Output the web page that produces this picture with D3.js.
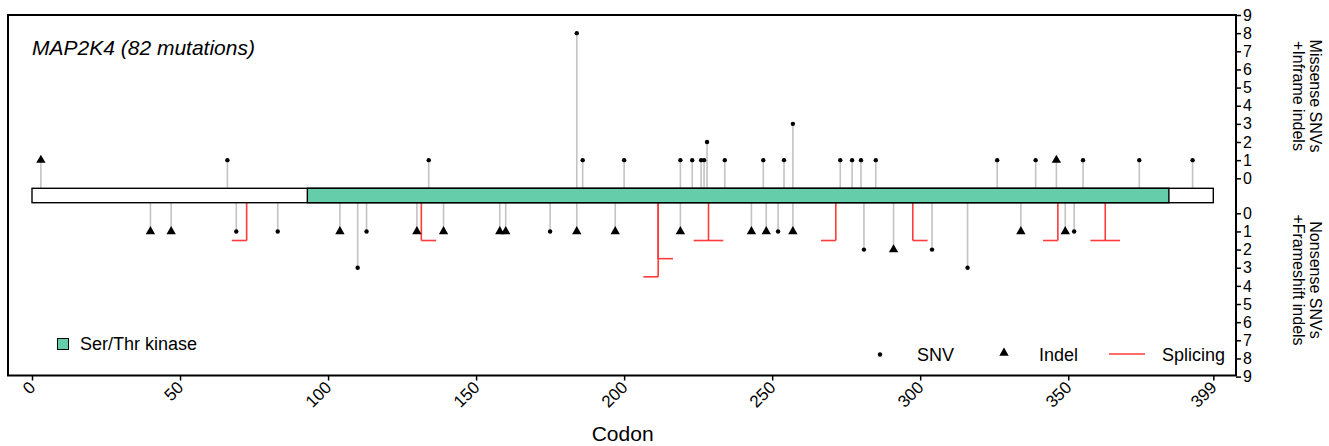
<!DOCTYPE html>
<html>
<head>
<meta charset="utf-8">
<script src="https://cdn.jsdelivr.net/npm/d3@7"></script>
<style>
  body { margin: 0; background: #fff; }
  svg { font-family: "Liberation Sans", Arial, sans-serif; }
</style>
</head>
<body>
<script>
// MAP2K4 lollipop plot

var w = 1329;
var h = 446;

// protein + domain (codons)
var proteinLength = 399;
var domainName = "Ser/Thr kinase";
var domainRange = [93, 384];

// [codon, count]  -- above the bar
var missenseSNV = [[66,1],[134,1],[184,8],[186,1],[200,1],[219,1],[223,1],[226,1],[227,1],[228,2],
                   [234,1],[247,1],[254,1],[257,3],[273,1],[277,1],[280,1],[285,1],[326,1],[339,1],
                   [355,1],[374,1],[392,1]];
var inframeIndel = [[3,1],[346,1]];

// [codon, count]  -- below the bar
var nonsenseSNV = [[69,1],[83,1],[110,3],[113,1],[175,1],[252,1],[281,2],[304,2],[316,3],[352,1]];
var frameshiftIndel = [[40,1],[47,1],[104,1],[130,1],[139,1],[158,1],[160,1],[184,1],[197,1],[219,1],
                       [243,1],[248,1],[257,1],[291,2],[334,1],[349,1]];

// [codon, level, side]  side: -1 left, 1 right, 0 both
var splicing = [[72.5,1.5,-1],[131.5,1.5,1],[211.5,2.5,1],[211.5,3.5,-1],[228.5,1.5,0],
                [271.5,1.5,-1],[297.5,1.5,1],[346.5,1.5,-1],[362.5,1.5,0]];

var xTicks = [0,50,100,150,200,250,300,350,399];
var countTicks = [0,1,2,3,4,5,6,7,8,9];

var svg = d3.select("body").append("svg")
    .attr("width", w)
    .attr("height", h);

var x = d3.scaleLinear().domain([0, proteinLength]).range([32, 1213.3]);
var yUp = d3.scaleLinear().domain([0, 9]).range([178.3, 15]);
var yDown = d3.scaleLinear().domain([0, 9]).range([213.3, 376.6]);

var barTop = 188.3, barBottom = 202.7;
var stemColor = "#c3c3c3";
var domainColor = "#66cdaa";
var spliceColor = "#ff3b3b";

// frame
svg.append("rect")
    .attr("x", 8).attr("y", 15)
    .attr("width", 1228).attr("height", 360.5)
    .attr("fill", "none").attr("stroke", "#000").attr("stroke-width", 2);

// title
svg.append("text")
    .attr("x", 32).attr("y", 55)
    .style("font-size", "21px").style("font-style", "italic")
    .text("MAP2K4 (82 mutations)");

// stems
var up = missenseSNV.map(function(d){ return {c:d[0], n:d[1], t:"snv"}; })
    .concat(inframeIndel.map(function(d){ return {c:d[0], n:d[1], t:"indel"}; }));
var down = nonsenseSNV.map(function(d){ return {c:d[0], n:d[1], t:"snv"}; })
    .concat(frameshiftIndel.map(function(d){ return {c:d[0], n:d[1], t:"indel"}; }));

svg.append("g").selectAll("line").data(up).enter().append("line")
    .attr("x1", function(d){ return x(d.c); })
    .attr("x2", function(d){ return x(d.c); })
    .attr("y1", barTop)
    .attr("y2", function(d){ return yUp(d.n); })
    .attr("stroke", stemColor).attr("stroke-width", 1.6);

svg.append("g").selectAll("line").data(down).enter().append("line")
    .attr("x1", function(d){ return x(d.c); })
    .attr("x2", function(d){ return x(d.c); })
    .attr("y1", barBottom)
    .attr("y2", function(d){ return yDown(d.n); })
    .attr("stroke", stemColor).attr("stroke-width", 1.6);

// splicing
var spliceG = svg.append("g").attr("stroke", spliceColor).attr("stroke-width", 1.6).attr("fill", "none");
spliceG.selectAll("line.v").data(splicing).enter().append("line")
    .attr("class", "v")
    .attr("x1", function(d){ return x(d[0]); })
    .attr("x2", function(d){ return x(d[0]); })
    .attr("y1", barBottom)
    .attr("y2", function(d){ return yDown(d[1]); });
spliceG.selectAll("line.hz").data(splicing).enter().append("line")
    .attr("class", "hz")
    .attr("x1", function(d){ return d[2] === 1 ? x(d[0]) : x(d[0] - 5); })
    .attr("x2", function(d){ return d[2] === -1 ? x(d[0]) : x(d[0] + 5); })
    .attr("y1", function(d){ return yDown(d[1]); })
    .attr("y2", function(d){ return yDown(d[1]); });

// markers
var tri = d3.symbol().type(d3.symbolTriangle).size(38);
function drawMarks(data, yScale) {
    var g = svg.append("g");
    g.selectAll("circle").data(data.filter(function(d){ return d.t == "snv"; })).enter()
        .append("circle")
        .attr("cx", function(d){ return x(d.c); })
        .attr("cy", function(d){ return yScale(d.n); })
        .attr("r", 2.2).attr("fill", "#000");
    g.selectAll("path").data(data.filter(function(d){ return d.t == "indel"; })).enter()
        .append("path")
        .attr("d", tri)
        .attr("transform", function(d){ return "translate(" + x(d.c) + "," + yScale(d.n) + ")"; })
        .attr("fill", "#000");
}
drawMarks(up, yUp);
drawMarks(down, yDown);

// protein bar
svg.append("rect")
    .attr("x", x(0)).attr("y", barTop)
    .attr("width", x(proteinLength) - x(0)).attr("height", barBottom - barTop)
    .attr("fill", "#fff").attr("stroke", "#000").attr("stroke-width", 1.4);
svg.append("rect")
    .attr("x", x(domainRange[0])).attr("y", barTop)
    .attr("width", x(domainRange[1]) - x(domainRange[0])).attr("height", barBottom - barTop)
    .attr("fill", domainColor).attr("stroke", "#000").attr("stroke-width", 1.4);

// x axis
var xAxis = svg.append("g")
    .attr("transform", "translate(0,375.5)")
    .call(d3.axisBottom(x).tickValues(xTicks).tickSize(5).tickFormat(d3.format("d")));
xAxis.select(".domain").remove();
xAxis.selectAll(".tick line").attr("stroke-width", 1.5);
xAxis.selectAll(".tick text")
    .style("font-size", "17px").attr("fill", "#000")
    .attr("text-anchor", "end")
    .attr("x", 0).attr("y", 0).attr("dy", 0)
    .attr("transform", "translate(4,13) rotate(-45)");

svg.append("text")
    .attr("x", (x(0) + x(proteinLength)) / 2).attr("y", 441)
    .attr("text-anchor", "middle")
    .style("font-size", "21px")
    .text("Codon");

// right axes
function rightAxis(scale) {
    var g = svg.append("g")
        .attr("transform", "translate(1236,0)")
        .call(d3.axisRight(scale).tickValues(countTicks).tickSize(5).tickPadding(2));
    g.select(".domain").remove();
    g.selectAll(".tick line").attr("stroke-width", 1.5);
    g.selectAll(".tick text").style("font-size", "16px").attr("fill", "#000");
}
rightAxis(yUp);
rightAxis(yDown);

function sideTitle(lines, cy) {
    var t = svg.append("text")
        .attr("transform", "translate(1310," + cy + ") rotate(90)")
        .attr("text-anchor", "middle")
        .style("font-size", "16px");
    lines.forEach(function(s, i) {
        t.append("tspan").attr("x", 0).attr("y", i * 17).text(s);
    });
}
sideTitle(["Missense SNVs", "+Inframe indels"], 96);
sideTitle(["Nonsense SNVs", "+Frameshift indels"], 280);

// legends
svg.append("rect")
    .attr("x", 57.5).attr("y", 338.5).attr("width", 11).attr("height", 11)
    .attr("fill", domainColor).attr("stroke", "#000").attr("stroke-width", 1);
svg.append("text")
    .attr("x", 80).attr("y", 350)
    .style("font-size", "18px")
    .text(domainName);

var lg = svg.append("g");
lg.append("circle").attr("cx", 880).attr("cy", 354.5).attr("r", 2.2).attr("fill", "#000");
lg.append("text").attr("x", 917).attr("y", 361).style("font-size", "18px").text("SNV");
lg.append("path").attr("d", tri).attr("transform", "translate(1004,353)").attr("fill", "#000");
lg.append("text").attr("x", 1039).attr("y", 361).style("font-size", "18px").text("Indel");
lg.append("line").attr("x1", 1109).attr("x2", 1145).attr("y1", 354).attr("y2", 354)
    .attr("stroke", spliceColor).attr("stroke-width", 1.6);
lg.append("text").attr("x", 1162).attr("y", 361).style("font-size", "18px").text("Splicing");
</script>
</body>
</html>
